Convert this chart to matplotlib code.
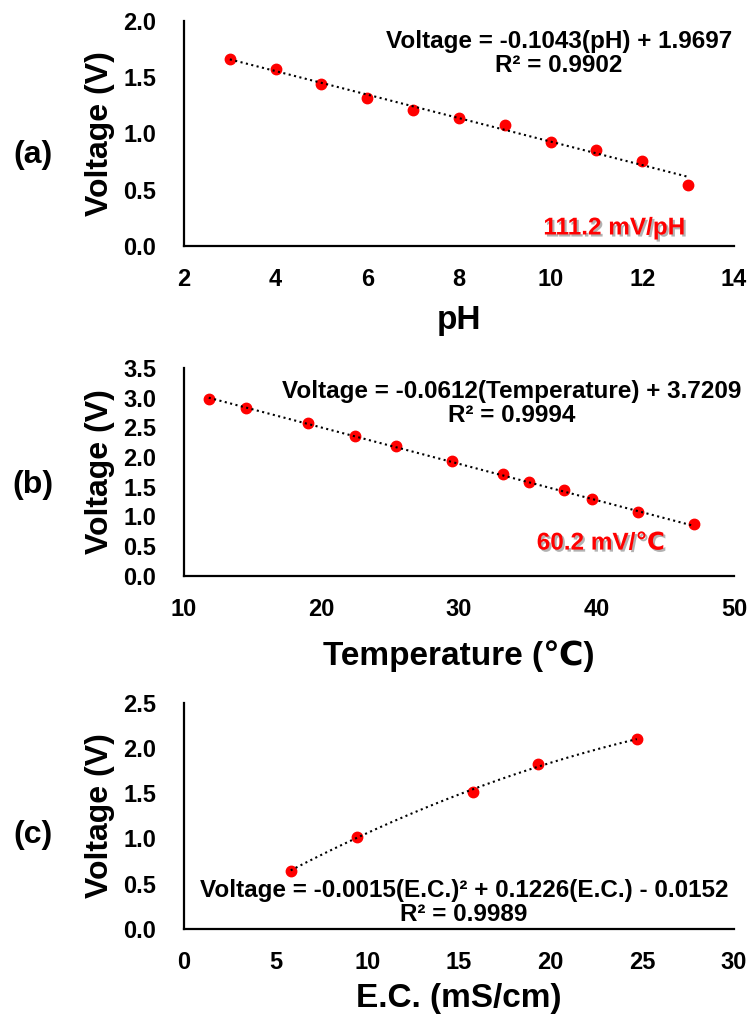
import numpy as np
import matplotlib
matplotlib.use('Agg')
import matplotlib.pyplot as plt
import matplotlib.patheffects as pe

plt.rcParams['font.family'] = ['Liberation Sans', 'DejaVu Sans']
plt.rcParams['font.weight'] = 'bold'

# (a) pH
ph = [3, 4, 5, 6, 7, 8, 9, 10, 11, 12, 13]
v_ph = [1.66, 1.575, 1.44, 1.315, 1.21, 1.133, 1.077, 0.926, 0.853, 0.758, 0.545]
fit_ph = [-0.1043, 1.9697]

# (b) temperature
temp = [11.8, 14.5, 19.0, 22.4, 25.4, 29.5, 33.2, 35.1, 37.6, 39.7, 43.0, 47.1]
v_temp = [2.98, 2.83, 2.58, 2.36, 2.19, 1.94, 1.71, 1.58, 1.44, 1.29, 1.07, 0.87]
fit_temp = [-0.0612, 3.7209]

# (c) E.C.
ec = [5.82, 9.46, 15.75, 19.33, 24.7]
v_ec = [0.64, 1.02, 1.51, 1.82, 2.10]
fit_ec = [-0.0015, 0.1226, -0.0152]

W, H = 750, 1014
fig = plt.figure(figsize=(W / 100, H / 100), dpi=100)


def make_axes(top_px, bottom_px):
    left, right = 184, 734
    return fig.add_axes([left / W, 1 - bottom_px / H, (right - left) / W, (bottom_px - top_px) / H])


def style(ax, xlim, xticks, ylim, yticks):
    ax.set_xlim(*xlim)
    ax.set_ylim(*ylim)
    ax.set_xticks(xticks)
    ax.set_yticks(yticks)
    ax.set_yticklabels(['%.1f' % t for t in yticks])
    for s in ['top', 'right']:
        ax.spines[s].set_visible(False)
    for s in ['left', 'bottom']:
        ax.spines[s].set_linewidth(1.6)
    ax.tick_params(axis='x', length=0, pad=16, labelsize=17)
    ax.tick_params(axis='y', length=0, pad=20, labelsize=17)
    for lab in ax.get_xticklabels() + ax.get_yticklabels():
        lab.set_fontweight('bold')


def plot_series(ax, x, y, coef):
    ax.plot(x, y, 'o', color='#ff0000', markersize=7.5, zorder=2, clip_on=False)
    xs = np.linspace(min(x), max(x), 200)
    ax.plot(xs, np.polyval(coef, xs), ':', color='black', linewidth=1.5, zorder=3)


def ylabel(ax):
    ax.set_ylabel('Voltage (V)', fontsize=23, fontweight='bold')
    ax.yaxis.set_label_coords(-0.153, 0.5)
    ax.yaxis.label.set_va('center')


def xlabel(ax, text, y):
    ax.set_xlabel(text, fontsize=24, fontweight='bold')
    ax.xaxis.set_label_coords(0.5, y)
    ax.xaxis.label.set_va('baseline')


shadow = [pe.SimplePatchShadow(offset=(1.5, -1.5), shadow_rgbFace='#808080', alpha=0.6), pe.Normal()]

# (a)
ax1 = make_axes(20.7, 246)
plot_series(ax1, ph, v_ph, fit_ph)
style(ax1, (2, 14), [2, 4, 6, 8, 10, 12, 14], (0, 2.0), [0, 0.5, 1.0, 1.5, 2.0])
ylabel(ax1)
xlabel(ax1, 'pH', -0.368)
ax1.text(10.18, 1.71, 'Voltage = -0.1043(pH) + 1.9697\nR² = 0.9902', ha='center', va='center',
         fontsize=17.5, fontweight='bold', linespacing=1.05)
ax1.text(11.38, 0.16, '111.2 mV/pH', ha='center', va='center', fontsize=17.5, fontweight='bold',
         color='#ff0000', path_effects=shadow)

# (b)
ax2 = make_axes(368, 575.7)
plot_series(ax2, temp, v_temp, fit_temp)
style(ax2, (10, 50), [10, 20, 30, 40, 50], (0, 3.5), [0, 0.5, 1.0, 1.5, 2.0, 2.5, 3.0, 3.5])
ylabel(ax2)
xlabel(ax2, 'Temperature (℃)', -0.43)
ax2.text(33.8, 2.9, 'Voltage = -0.0612(Temperature) + 3.7209\nR² = 0.9994', ha='center', va='center',
         fontsize=17.5, fontweight='bold', linespacing=1.05)
ax2.text(40.3, 0.55, '60.2 mV/℃', ha='center', va='center', fontsize=17.5, fontweight='bold',
         color='#ff0000', path_effects=shadow)

# (c)
ax3 = make_axes(702.7, 929)
plot_series(ax3, ec, v_ec, fit_ec)
style(ax3, (0, 30), [0, 5, 10, 15, 20, 25, 30], (0, 2.5), [0, 0.5, 1.0, 1.5, 2.0, 2.5])
ylabel(ax3)
xlabel(ax3, 'E.C. (mS/cm)', -0.345)
ax3.text(15.27, 0.29, 'Voltage = -0.0015(E.C.)² + 0.1226(E.C.) - 0.0152\nR² = 0.9989',
         ha='center', va='center', fontsize=17.5, fontweight='bold', linespacing=1.05)

# panel letters
for lab, ypx in [('(a)', 155), ('(b)', 485), ('(c)', 835)]:
    fig.text(33 / W, 1 - ypx / H, lab, ha='center', va='center', fontsize=23, fontweight='bold')

fig.savefig('out.png', dpi=100)
